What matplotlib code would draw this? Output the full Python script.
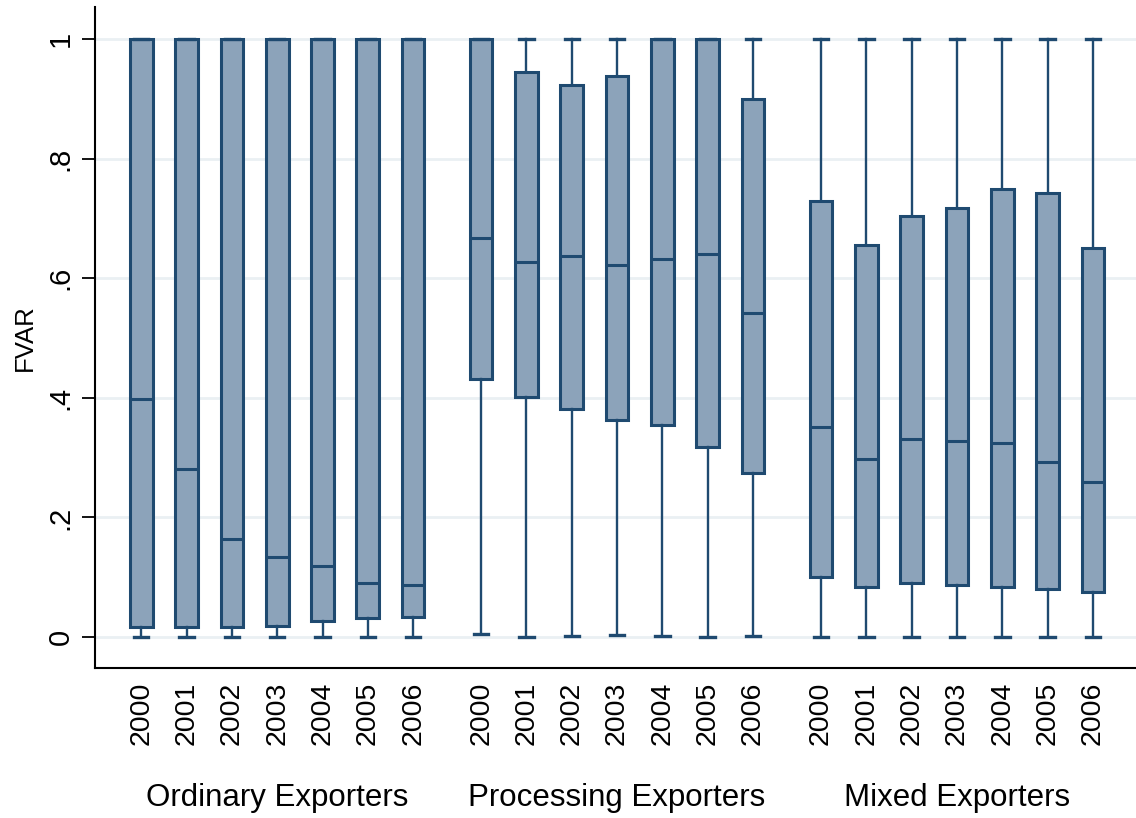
import matplotlib
matplotlib.use("Agg")
import matplotlib.pyplot as plt
import matplotlib.transforms as mtransforms

plt.rcParams['font.family'] = ['Liberation Sans', 'DejaVu Sans']

# box summaries per exporter type, years 2000-2006
years = ['2000', '2001', '2002', '2003', '2004', '2005', '2006']
groups = ['Ordinary Exporters', 'Processing Exporters', 'Mixed Exporters']

ord_lo = [0.0, 0.0, 0.0, 0.0, 0.0, 0.0, 0.0]
ord_q1 = [0.017, 0.017, 0.017, 0.018, 0.027, 0.032, 0.034]
ord_med = [0.398, 0.281, 0.164, 0.134, 0.119, 0.090, 0.087]
ord_q3 = [1.0, 1.0, 1.0, 1.0, 1.0, 1.0, 1.0]
ord_hi = [1.0, 1.0, 1.0, 1.0, 1.0, 1.0, 1.0]

proc_lo = [0.005, 0.0, 0.001, 0.003, 0.001, 0.0, 0.001]
proc_q1 = [0.431, 0.401, 0.382, 0.363, 0.355, 0.318, 0.274]
proc_med = [0.668, 0.628, 0.638, 0.623, 0.632, 0.641, 0.542]
proc_q3 = [1.0, 0.946, 0.924, 0.939, 1.0, 1.0, 0.900]
proc_hi = [1.0, 1.0, 1.0, 1.0, 1.0, 1.0, 1.0]

mix_lo = [0.0, 0.0, 0.0, 0.0, 0.0, 0.0, 0.0]
mix_q1 = [0.100, 0.083, 0.090, 0.087, 0.083, 0.080, 0.075]
mix_med = [0.352, 0.298, 0.332, 0.328, 0.324, 0.293, 0.259]
mix_q3 = [0.730, 0.656, 0.705, 0.717, 0.750, 0.743, 0.650]
mix_hi = [1.0, 1.0, 1.0, 1.0, 1.0, 1.0, 1.0]

series = [
    (ord_lo, ord_q1, ord_med, ord_q3, ord_hi),
    (proc_lo, proc_q1, proc_med, proc_q3, proc_hi),
    (mix_lo, mix_q1, mix_med, mix_q3, mix_hi),
]

navy = '#1f4a70'
fill = '#8ca3ba'

W, H = 1136, 818
fig = plt.figure(figsize=(W / 100, H / 100), dpi=100)
ax = fig.add_axes([95 / W, 1 - 668 / H, 1 - 95 / W, (668 - 7) / H])

stats = []
positions = []
for g, (lo, q1, med, q3, hi) in enumerate(series):
    for i in range(len(years)):
        stats.append(dict(whislo=lo[i], q1=q1[i], med=med[i], q3=q3[i],
                          whishi=hi[i], fliers=[]))
        positions.append(g * 7.5 + i)

ax.bxp(stats, positions=positions, widths=0.5, patch_artist=True,
       showfliers=False, capwidths=0.32,
       boxprops=dict(facecolor=fill, edgecolor=navy, linewidth=2.2),
       medianprops=dict(color=navy, linewidth=2.2),
       whiskerprops=dict(color=navy, linewidth=1.7),
       capprops=dict(color=navy, linewidth=2.4),
       zorder=3)

ax.set_xlim(-1.02, 21.95)
ax.set_ylim(-0.052, 1.054)

ax.set_yticks([0, 0.2, 0.4, 0.6, 0.8, 1.0])
ax.set_yticklabels(['0', '.2', '.4', '.6', '.8', '1'], rotation=90,
                   va='center', fontsize=21)
ax.yaxis.grid(True, color='#eaf0f3', linewidth=2)
ax.set_axisbelow(True)
ax.tick_params(axis='y', length=9.5, width=1.3, pad=5)

ax.set_xticks(positions)
ax.set_xticklabels(years * 3, rotation=90, fontsize=20.5)
ax.tick_params(axis='x', length=0, pad=10)

ax.set_ylabel('FVAR', fontsize=18.5, labelpad=7)

for side in ['top', 'right']:
    ax.spines[side].set_visible(False)
for side in ['left', 'bottom']:
    ax.spines[side].set_linewidth(1.5)

trans = mtransforms.blended_transform_factory(ax.transData, fig.transFigure)
for g, name in enumerate(groups):
    ax.text(g * 7.5 + 3, 1 - 798 / H, name, transform=trans,
            ha='center', va='center', fontsize=22.5)

fig.savefig('out.png', dpi=100, facecolor='white')
